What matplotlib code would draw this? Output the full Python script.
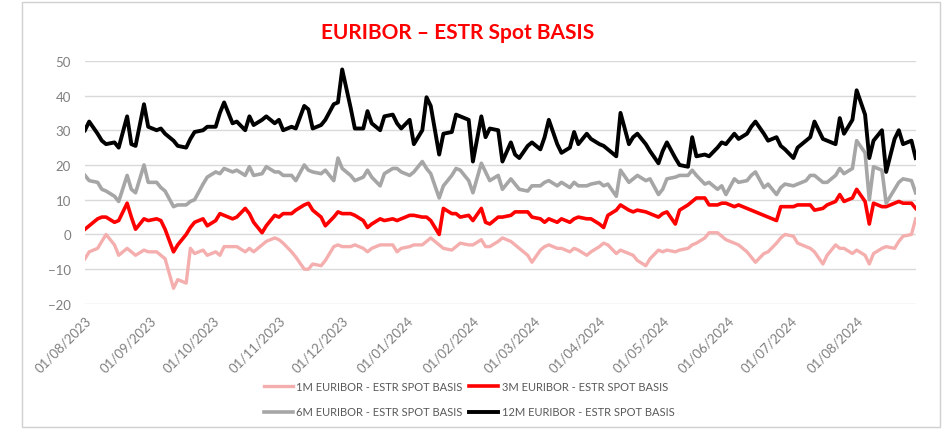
import matplotlib
matplotlib.use("Agg")
import matplotlib.pyplot as plt
from matplotlib.patches import Rectangle
import pandas as pd

# Fechas: un dato cada dos dias habiles, de 01/08/2023 a 30/08/2024
dates = pd.bdate_range("2023-08-01", "2024-08-30")[::2]
month_ticks = pd.date_range("2023-08-01", "2024-08-01", freq="MS")

# 1M EURIBOR - ESTR (pb), por meses
basis_1m = [
    -7, -5, -4, -2, 0, -3, -6, -4, -5, -6, -4.5, -5,            # ago 23
    -5, -6, -7, -15.5, -13, -14, -4, -5.5, -4.5, -6,            # sep
    -5, -6, -3.5, -3.5, -3.5, -5, -4, -5, -3, -2, -1,           # oct
    -1.5, -2.5, -5, -6.5, -10, -10, -8.5, -9, -7.5, -3.5, -3,   # nov
    -3.5, -3.5, -3, -4, -5, -4, -3, -3, -3, -5, -4,             # dic
    -3.5, -3, -3, -2, -1, -3, -4, -4.5, -3.5, -2.5, -3,         # ene 24
    -3, -1.5, -3.5, -3.5, -2, -1, -2, -3, -4, -6, -8,           # feb
    -4.5, -3.5, -3, -4, -4, -5, -4, -4.5, -6, -5,               # mar
    -3.5, -2.5, -3, -5.5, -4.5, -5.5, -6, -7.5, -9, -7, -4.5,   # abr
    -5, -4.5, -5, -4.5, -4, -3, -2.5, -1, 0.5, 0.5, -0.5, -1.5, # may
    -2.5, -3, -5, -6.5, -8, -5.5, -5, -2.5, -1, 0,              # jun
    -0.5, -2.5, -3.5, -4, -5, -8.5, -6, -3, -4, -4, -5.5,       # jul
    -4.5, -6, -8.5, -5.5, -4, -3.5, -4, -2, -0.5, 0, 4.5,       # ago 24
]

# 3M EURIBOR - ESTR
basis_3m = [
    1.5, 2.5, 4.5, 5, 5, 3.5, 4, 9, 5, 1.5, 4.5, 4,
    4.5, 4, 1.5, -5, -3, 0, 2, 3.5, 4.5, 2.5,
    4, 6, 5.5, 4.5, 5, 7.5, 6, 3.5, 0.5, 2.5, 5.5,
    5, 6, 6, 7, 8.5, 9, 7, 5, 2.5, 5, 6.5,
    6, 6, 5.5, 4, 2, 3, 4.5, 4, 4.5, 4, 4.5,
    5.5, 5.5, 5, 5, 4, 0, 7.5, 6, 6, 5, 5.5,
    4, 7.5, 3.5, 3, 5, 5, 5.5, 6.5, 6.5, 6.5, 5,
    4.5, 3.5, 4.5, 3.5, 4.5, 3.5, 4.5, 5, 4.5, 4.5,
    3, 2, 5.5, 7, 8.5, 7, 6.5, 7, 6.5, 6, 5,
    6, 6.5, 3, 7, 8.5, 9.5, 10.5, 10.5, 8.5, 8.5, 9, 9,
    8, 8.5, 7.5, 7, 6.5, 5.5, 5, 4, 8, 8,
    8, 8.5, 8.5, 8.5, 7, 7.5, 8.5, 9.5, 11.5, 9.5, 10.5,
    13, 9.5, 3, 9, 8, 8, 9, 9.5, 9, 9, 7.5,
]

# 6M EURIBOR - ESTR
basis_6m = [
    17, 15.5, 15, 13, 12.5, 11, 9.5, 17, 13, 12, 20, 15,
    15, 13.5, 12.5, 8, 8.5, 8.5, 9.5, 10, 14.5, 16.5,
    18, 17.5, 19, 18, 18.5, 17, 19.5, 17, 17.5, 19.5, 18,
    18, 17, 17, 15.5, 20, 18.5, 18, 17.5, 18.5, 15.5, 22,
    19, 17, 15.5, 16.5, 18.5, 16.5, 14, 17.5, 19, 19, 18,
    17, 18, 21, 19, 17.5, 10.5, 14, 17, 19, 18.5, 15.5,
    12, 20.5, 18, 15.5, 17, 13, 16, 14.5, 13, 12.5, 14,
    14, 15, 15.5, 14, 15, 13.5, 15, 14, 14, 14.5,
    15, 14, 14.5, 11, 18.5, 15, 16, 17, 15.5, 16, 11.5,
    13, 16, 16.5, 17, 17, 18.5, 17, 14.5, 15, 13, 14, 11.5,
    16, 15, 15.5, 17, 18, 13.5, 14.5, 11.5, 13.5, 14.5,
    14, 14.5, 15.5, 17, 17, 15, 15, 17, 19, 17.5, 19,
    27, 23.5, 10, 19.5, 18.5, 9, 13, 15, 16, 15.5, 12,
]

# 12M EURIBOR - ESTR
basis_12m = [
    30, 32.5, 29, 27, 26, 26.5, 25, 34, 26, 25.5, 37.5, 31,
    30, 30.5, 29, 27, 25.5, 25, 27.5, 29.5, 30, 31,
    31, 35, 38, 32, 32.5, 30, 34, 31.5, 33, 34, 32,
    33, 30, 31, 30.5, 37, 36, 30.5, 31.5, 33, 37.5, 38,
    47.5, 36.5, 30.5, 30.5, 35.5, 32, 30, 34, 34.5, 32, 30.5,
    33, 26, 30, 39.5, 37, 23, 29, 29.5, 34.5, 34, 33,
    21, 34, 28, 30.5, 30, 21, 26.5, 23, 22, 25.5, 26.5,
    24.5, 28, 33, 26, 23.5, 25, 29.5, 26, 29, 27.5,
    26, 25.5, 24.5, 22.5, 35, 26, 28, 29, 26, 24, 20.5,
    24, 26.5, 22, 20, 19.5, 28, 22.5, 23, 22.5, 25, 26.5, 26,
    29, 27.5, 29, 31, 32.5, 29, 27, 28, 25.5, 24.5,
    22, 25, 27, 28, 32.5, 27.5, 27, 26, 33.5, 29, 33,
    41.5, 34.5, 22, 27, 30, 18, 27.5, 30, 26, 27, 22,
]

labels = ["1M EURIBOR - ESTR SPOT BASIS", "3M EURIBOR - ESTR SPOT BASIS",
          "6M EURIBOR - ESTR SPOT BASIS", "12M EURIBOR - ESTR SPOT BASIS"]
series = [basis_1m, basis_3m, basis_6m, basis_12m]
colors = ["#F5AEAE", "#FF0000", "#A6A6A6", "#000000"]
widths = [2.4, 2.6, 2.6, 2.8]

plt.rcParams["font.family"] = ["Lato", "DejaVu Sans"]

fig = plt.figure(figsize=(9.44, 4.35), dpi=100)
ax = fig.add_axes([0.090, 0.299, 0.880, 0.559])

lines = []
for vals, col, lw, lab in zip(series, colors, widths, labels):
    n = min(len(vals), len(dates))
    ln, = ax.plot(dates[:n], vals[:n], color=col, lw=lw, label=lab,
                  solid_joinstyle="round")
    lines.append(ln)

ax.set_xlim(dates[0], dates[-1])
ax.set_ylim(-20, 50)
ax.set_yticks(range(-20, 51, 10))
ax.set_xticks(month_ticks)
ax.set_xticklabels([d.strftime("%d/%m/%Y") for d in month_ticks],
                   rotation=45, ha="right", rotation_mode="anchor")
ax.tick_params(axis="both", length=0, colors="#7F7F7F", labelsize=9.5)
ax.tick_params(axis="x", pad=7)
ax.tick_params(axis="y", pad=10)
ax.grid(axis="y", color="#D9D9D9", lw=1.0)
ax.set_axisbelow(True)
for s in ax.spines.values():
    s.set_visible(False)

# Titulo
fig.text(0.485, 0.925, "EURIBOR \u2013 ESTR Spot BASIS", color="#FF0000",
         fontsize=15, fontweight="bold", ha="center", va="center")

# Leyenda: 1M y 3M arriba, 6M y 12M abajo
order = [0, 2, 1, 3]
leg = fig.legend([lines[i] for i in order], [labels[i] for i in order],
                 loc="center", bbox_to_anchor=(0.497, 0.080), ncol=2,
                 frameon=False, fontsize=8, handlelength=2.6,
                 handletextpad=0.3, columnspacing=0.6, labelspacing=1.3)
for t in leg.get_texts():
    t.set_color("#595959")

# Marco exterior
fig.patches.append(Rectangle((22 / 944, 1 - 428 / 435), 918 / 944, 425 / 435,
                             transform=fig.transFigure, fill=False,
                             edgecolor="#D0D0D0", lw=1.0))

fig.savefig("out.png", dpi=100)
